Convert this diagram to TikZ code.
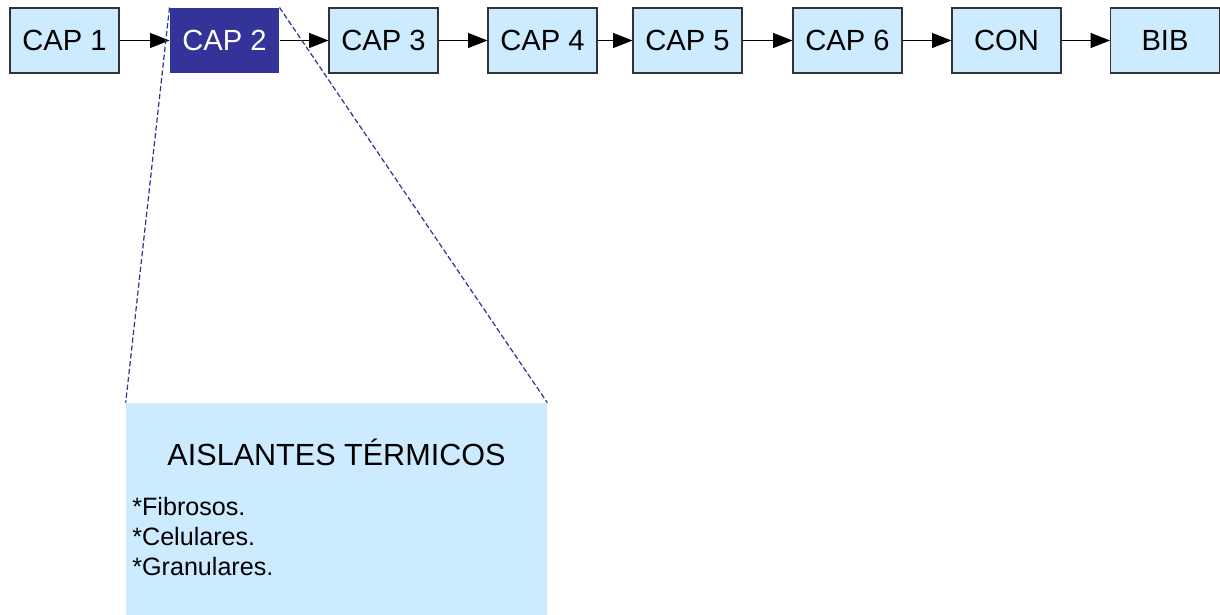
\documentclass[tikz,border=0pt]{standalone}
\usepackage{fontspec}
\setmainfont{Liberation Sans}
\usetikzlibrary{arrows.meta}
\definecolor{celeste}{HTML}{CCEBFF}
\definecolor{azul}{HTML}{333399}
\tikzset{
	capbox/.style={draw=black!80, line width=0.6pt, fill=celeste, minimum width=2.18cm, minimum height=1.3cm, inner sep=0pt, font=\fontsize{16.6}{19}\selectfont},
	sigue/.style={-{Triangle[length=11pt,width=8.5pt]}, line width=0.6pt},
	zoomline/.style={draw=azul, line width=0.7pt, dash pattern=on 3pt off 1.5pt}
}
\begin{document}
\begin{tikzpicture}[x=0.02cm, y=-0.02cm]
		\useasboundingbox (0,0) rectangle (1220,615);
		
		% capitulos
		\node[capbox] (cap1) at (64.5,40.5) {CAP 1};
		\node[capbox, draw=none, fill=azul, text=white] (cap2) at (224.5,40.5) {CAP 2};
		\node[capbox] (cap3) at (383.5,40.5) {CAP 3};
		\node[capbox] (cap4) at (542.5,40.5) {CAP 4};
		\node[capbox] (cap5) at (687.5,40.5) {CAP 5};
		\node[capbox] (cap6) at (847.5,40.5) {CAP 6};
		\node[capbox] (con) at (1006.5,40.5) {CON};
		\node[capbox] (bib) at (1165,40.5) {BIB};
		
		\foreach \a/\b in {cap1/cap2,cap2/cap3,cap3/cap4,cap4/cap5,cap5/cap6,cap6/con,con/bib}
			\draw[sigue] (\a) -- (\b);
		
		% detalle del capitulo 2
		\node[fill=celeste, minimum width=8.42cm, minimum height=4.24cm, inner sep=0pt] (detalle) at (336.5,509) {};
		\node[anchor=base, inner sep=0pt, font=\fontsize{17.4}{20}\selectfont] (titulo) at (336.5,465) {AISLANTES TÉRMICOS};
		\node[anchor=base west, inner sep=0pt, align=left, font=\fontsize{14.3}{16.8}\selectfont] (lista) at (132,575) {*Fibrosos.\\*Celulares.\\*Granulares.};
		
		\draw[zoomline] (cap2.north west) -- (detalle.north west);
		\draw[zoomline] (cap2.north east) -- (detalle.north east);
	\end{tikzpicture}
\end{document}
